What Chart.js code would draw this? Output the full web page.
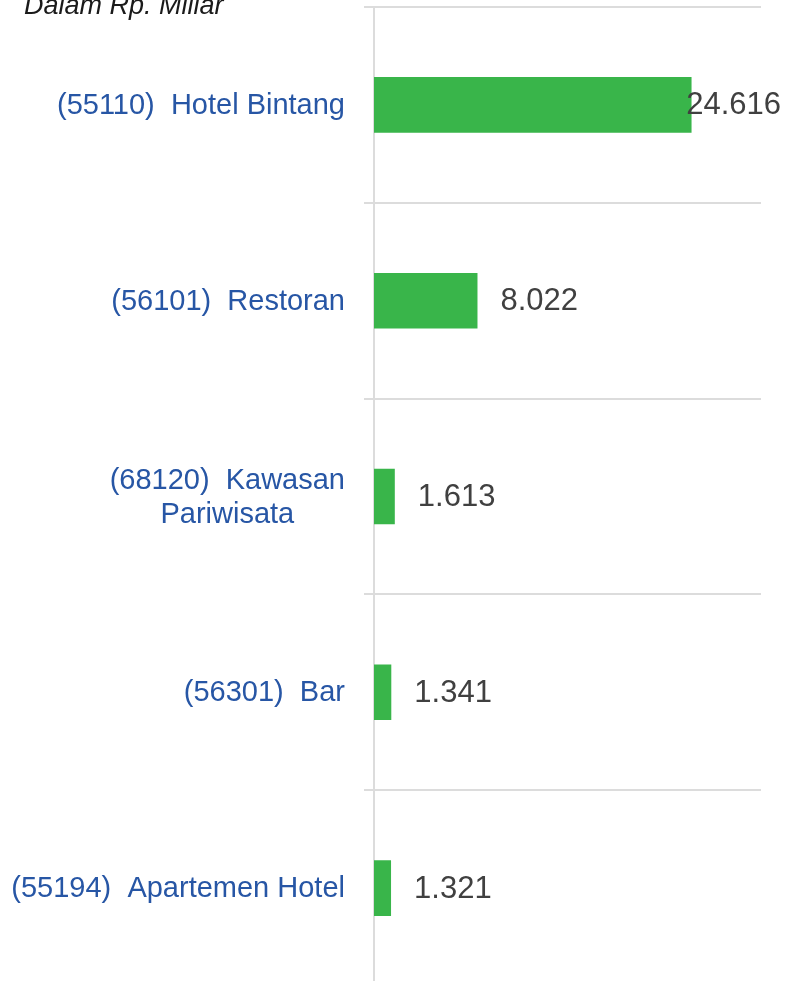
<!DOCTYPE html>
<html lang="id">
<head>
<meta charset="utf-8">
<title>Dalam Rp. Miliar</title>
<script src="https://cdn.jsdelivr.net/npm/chart.js@4.4.1/dist/chart.umd.min.js"></script>
<style>
    html, body { margin: 0; padding: 0; background: #fff; overflow: hidden; }
    #wrap { position: relative; width: 786px; height: 986px; }
    #satuan {
        position: absolute; left: 24px; top: -8px;
        font: italic 27px/27px 'Liberation Sans', Arial, sans-serif;
        color: #1a1a1a; white-space: nowrap;
    }
</style>
</head>
<body>
<div id="wrap">
    <canvas id="chartKbli" width="786" height="986"></canvas>
    <div id="satuan">Dalam Rp. Miliar</div>
</div>
<script>
// Kategori KBLI (baris label, dipecah per baris seperti di gambar)
const CATEGORY_LABELS = [
    ['(55110)  Hotel Bintang'],
    ['(56101)  Restoran'],
    ['(68120)  Kawasan', 'Pariwisata'],
    ['(56301)  Bar'],
    ['(55194)  Apartemen Hotel'],
];
// Nilai, Rp. Miliar
const NILAI = [24.616, 8.022, 1.613, 1.341, 1.321];
const X_MIN = 0;
const X_MAX = 30;

const BAR_COLOR = '#39b54a';
const GRID_COLOR = '#dcdcdc';
const LABEL_COLOR = '#2756a5';
const VALUE_COLOR = '#404040';
const LABEL_FONT = '29px "Liberation Sans", Arial, sans-serif';
const VALUE_FONT = '31px "Liberation Sans", Arial, sans-serif';
const LABEL_LINE_HEIGHT = 34;

// Label kategori (rata kanan, baris-baris di tengah) dan label nilai
const labelPlugin = {
    id: 'kbliLabels',
    afterDraw(chart) {
        const {ctx, chartArea, scales} = chart;
        const yScale = scales.y;
        const labelRight = chartArea.left - 29;

        ctx.save();
        ctx.textBaseline = 'middle';

        ctx.font = LABEL_FONT;
        ctx.fillStyle = LABEL_COLOR;
        ctx.textAlign = 'center';
        CATEGORY_LABELS.forEach((lines, i) => {
            const cy = yScale.getPixelForValue(i) + 1;
            const widest = Math.max(...lines.map((l) => ctx.measureText(l).width));
            const cx = labelRight - widest / 2;
            lines.forEach((line, j) => {
                ctx.fillText(line, cx, cy + (j - (lines.length - 1) / 2) * LABEL_LINE_HEIGHT);
            });
        });

        ctx.font = VALUE_FONT;
        ctx.fillStyle = VALUE_COLOR;
        ctx.textAlign = 'left';
        chart.getDatasetMeta(0).data.forEach((bar, i) => {
            const text = NILAI[i].toFixed(3);
            const w = ctx.measureText(text).width;
            const x = Math.min(bar.x + 23, chart.width - 5 - w);
            ctx.fillText(text, x, bar.y + 1);
        });
        ctx.restore();
    },
};

const ctx = document.getElementById('chartKbli').getContext('2d');

new Chart(ctx, {
    type: 'bar',
    data: {
        labels: CATEGORY_LABELS.map((l) => l.join(' ')),
        datasets: [
            {
                label: 'Dalam Rp. Miliar',
                data: NILAI,
                backgroundColor: BAR_COLOR,
                borderWidth: 0,
                barPercentage: 0.284,
                categoryPercentage: 1,
            },
        ],
    },
    options: {
        indexAxis: 'y',
        responsive: false,
        animation: false,
        devicePixelRatio: 1,
        layout: {
            padding: {top: 7, right: 25, bottom: 0, left: 0},
        },
        plugins: {
            legend: {display: false},
            tooltip: {enabled: false},
        },
        scales: {
            x: {
                display: false,
                min: X_MIN,
                max: X_MAX,
                grid: {display: false},
            },
            y: {
                offset: true,
                grid: {
                    offset: true,
                    color: GRID_COLOR,
                    lineWidth: 2,
                    drawTicks: true,
                    tickLength: 10,
                },
                border: {color: GRID_COLOR, width: 2},
                ticks: {display: false},
                afterFit(scale) {
                    scale.width = 374;
                },
            },
        },
    },
    plugins: [labelPlugin],
});
</script>
</body>
</html>
